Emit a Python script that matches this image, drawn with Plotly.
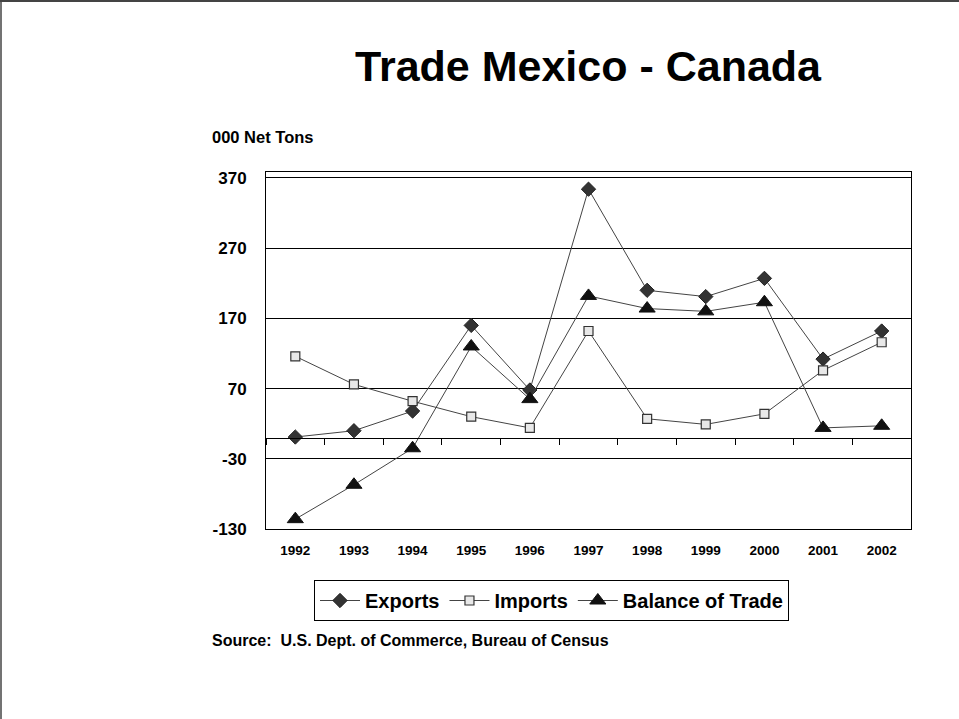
import plotly.graph_objects as go

# Trade between Mexico and Canada, thousands of net tons
years = ["1992", "1993", "1994", "1995", "1996", "1997", "1998", "1999", "2000", "2001", "2002"]
exports = [1, 10, 38, 160, 68, 354, 210, 201, 227, 112, 152]
imports = [116, 76, 52, 30, 14, 152, 27, 19, 34, 96, 136]
balance = [-116, -67, -15, 130, 55, 202, 184, 180, 193, 14, 17]

y_ticks = [-130, -30, 70, 170, 270, 370]
y_tick_labels = ["-130", "-30", "70", "170", "270", "370"]
y_range = [-130, 378.5]

FONT = "Arial, Liberation Sans, sans-serif"
W, H = 959, 719
L, R, T, B = 266, 48, 172, 190
plot_w, plot_h = W - L - R, H - T - B


def px_x(x):
    return (x - L) / plot_w


def px_y(y):
    return (H - B - y) / plot_h


fig = go.Figure()

fig.add_trace(go.Scatter(
    x=years, y=exports, name="Exports", mode="lines+markers",
    line=dict(color="#444444", width=1),
    marker=dict(symbol="diamond", size=11, color="#333333",
                line=dict(color="#222222", width=1)),
))
fig.add_trace(go.Scatter(
    x=years, y=imports, name="Imports", mode="lines+markers",
    line=dict(color="#444444", width=1),
    marker=dict(symbol="square", size=9, color="#e8e8e8",
                line=dict(color="#333333", width=1.2)),
))
fig.add_trace(go.Scatter(
    x=years, y=balance, name="Balance of Trade", mode="lines+markers",
    xaxis="x2",
    line=dict(color="#444444", width=1),
    marker=dict(symbol="triangle-up", size=14, color="#111111",
                line=dict(color="#111111", width=1)),
))

zero_pos = (0 - y_range[0]) / (y_range[1] - y_range[0])

fig.update_layout(
    width=W, height=H,
    margin=dict(l=L, r=R, t=T, b=B, pad=0),
    paper_bgcolor="white", plot_bgcolor="white",
    font=dict(family=FONT, color="black"),
    showlegend=True,
    legend=dict(
        orientation="h", x=px_x(551.5), y=px_y(580),
        xanchor="center", yanchor="top",
        bordercolor="black", borderwidth=1, bgcolor="white",
        font=dict(size=20, family=FONT, color="black", weight="bold"),
        itemwidth=40, tracegroupgap=0,
    ),
    xaxis=dict(
        type="category", categoryorder="array", categoryarray=years,
        range=[-0.5, len(years) - 0.5],
        showgrid=False, zeroline=False,
        showline=True, linecolor="black", linewidth=1, mirror=True,
        ticks="", ticklabelstandoff=9,
        tickfont=dict(size=13.5, family=FONT, color="black", weight="bold"),
    ),
    xaxis2=dict(
        type="category", categoryorder="array", categoryarray=years,
        range=[-0.5, len(years) - 0.5],
        overlaying="x", anchor="free", position=zero_pos, side="bottom",
        showgrid=False, zeroline=False, showticklabels=False,
        showline=True, linecolor="black", linewidth=1,
        tickson="boundaries", ticks="outside", ticklen=6,
        tickcolor="black", tickwidth=1,
    ),
    yaxis=dict(
        range=y_range, tickvals=y_ticks, ticktext=y_tick_labels,
        showgrid=True, gridcolor="black", gridwidth=1,
        zeroline=False,
        showline=True, linecolor="black", linewidth=1, mirror=True,
        ticks="", ticklabelstandoff=15,
        tickfont=dict(size=17, family=FONT, color="black", weight="bold"),
    ),
    annotations=[
        dict(text="<b>Trade Mexico - Canada</b>", xref="paper", yref="paper",
             x=0.5, y=px_y(66), xanchor="center", yanchor="middle",
             showarrow=False, font=dict(size=43, family=FONT, color="black")),
        dict(text="<b>000 Net Tons</b>", xref="paper", yref="paper",
             x=px_x(210), y=px_y(137), xanchor="left", yanchor="middle",
             showarrow=False, font=dict(size=16.5, family=FONT, color="black")),
        dict(text="<b>Source:&nbsp; U.S. Dept. of Commerce, Bureau of Census</b>",
             xref="paper", yref="paper",
             x=px_x(210), y=px_y(640), xanchor="left", yanchor="middle",
             showarrow=False, font=dict(size=16, family=FONT, color="black")),
    ],
    shapes=[
        # page frame along the top and left edges
        dict(type="line", xref="paper", yref="paper",
             x0=px_x(0), x1=px_x(W), y0=px_y(1), y1=px_y(1),
             line=dict(color="#444444", width=2)),
        dict(type="line", xref="paper", yref="paper",
             x0=px_x(1), x1=px_x(1), y0=px_y(0), y1=px_y(H),
             line=dict(color="#444444", width=1.5)),
    ],
)

fig.write_html("out.html")
